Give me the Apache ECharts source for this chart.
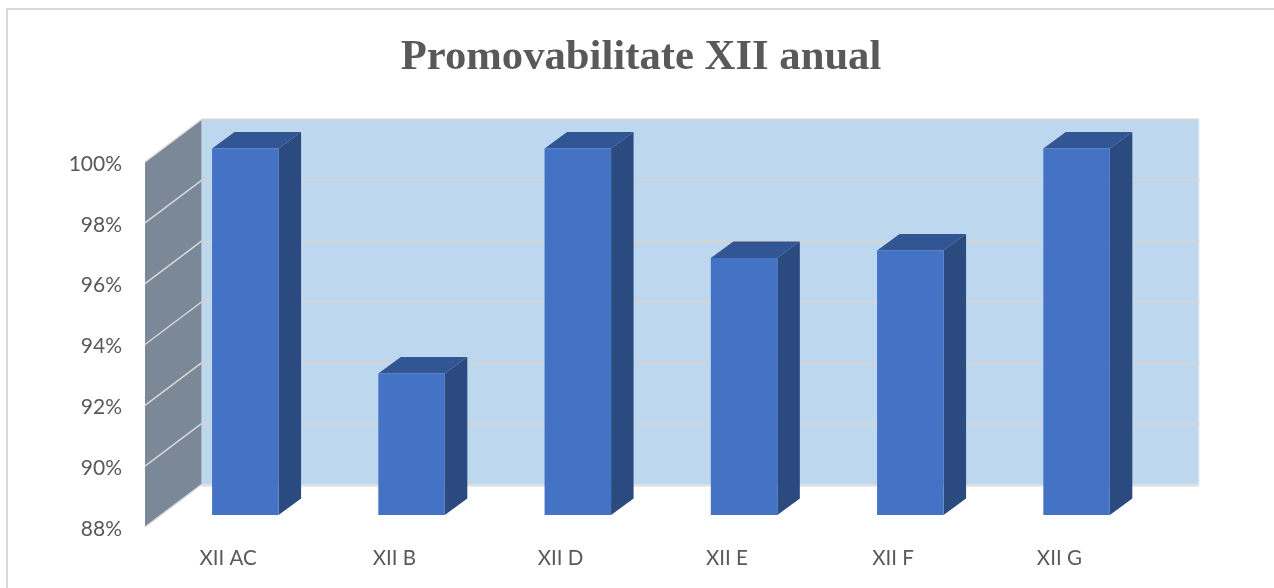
<!DOCTYPE html>
<html>
<head>
<meta charset="utf-8">
<script src="https://cdn.jsdelivr.net/npm/echarts@6/dist/echarts.min.js"></script>
<style>html,body{margin:0;padding:0;background:#fff}#c{width:1274px;height:588px}</style>
</head>
<body>
<div id="c"></div>
<script>
var titleText = 'Promovabilitate XII anual';
var categories = ['XII AC', 'XII B', 'XII D', 'XII E', 'XII F', 'XII G'];
var values = [100, 92.6, 100, 96.4, 96.65, 100];
var axisMin = 88;
var axisMax = 100;
var axisStep = 2;
var gridTicks = [90, 92, 94, 96, 98];

var wallDx = 56.5, wallDy = -42.5;
var barOffsetX = 17.2, barOffsetY = -13.5;
var depthX = 22.5, depthY = -16.5;

function poly(points, fill, z2) {
  return { type: 'polygon', z2: z2 || 0, shape: { points: points }, style: { fill: fill, stroke: null } };
}
function seg(a, b, color, w, z2) {
  return { type: 'line', z2: z2 || 1, shape: { x1: a[0], y1: a[1], x2: b[0], y2: b[1] }, style: { stroke: color, lineWidth: w, fill: null } };
}

function renderWalls(params, api) {
  var cs = params.coordSys;
  var x0 = cs.x, x1 = cs.x + cs.width;
  var yTop = api.coord([0, axisMax])[1], yBot = api.coord([0, axisMin])[1];
  var bx0 = x0 + wallDx, bx1 = x1 + wallDx;
  var line = '#d4d4d4';
  var kids = [
    poly([[bx0, yTop + wallDy], [bx1, yTop + wallDy], [bx1, yBot + wallDy], [bx0, yBot + wallDy]], '#bdd7ee'),
    poly([[x0, yTop], [bx0, yTop + wallDy], [bx0, yBot + wallDy], [x0, yBot]], '#7a8898'),
    seg([bx0, yTop + wallDy], [bx1, yTop + wallDy], line, 2),
    seg([bx0, yBot + wallDy + 1], [bx1, yBot + wallDy + 1], '#dcdcdc', 2),
    seg([x0, yTop], [bx0, yTop + wallDy], '#d9d9d9', 1.5),
    seg([x0, yBot], [bx0, yBot + wallDy], '#d9d9d9', 1.5),
    seg([bx1, yTop + wallDy], [bx1, yBot + wallDy], '#e6eef6', 1.5)
  ];
  gridTicks.forEach(function (t) {
    var y = api.coord([0, t])[1];
    kids.push(seg([x0, y], [bx0, y + wallDy], '#d9d9d9', 1.5));
    kids.push(seg([bx0, y + wallDy], [bx1, y + wallDy], line, 2));
  });
  return { type: 'group', children: kids };
}

function renderBar(params, api) {
  var idx = api.value(0);
  var top = api.coord([idx, api.value(1)]);
  var base = api.coord([idx, axisMin]);
  var w = api.size([1, 0])[0] * 0.4;
  var l = top[0] - w / 2 + barOffsetX, r = l + w;
  var t = top[1] + barOffsetY, b = base[1] + barOffsetY + 1.5;
  return {
    type: 'group',
    children: [
      poly([[r, t], [r + depthX, t + depthY], [r + depthX, b + depthY], [r, b]], '#2a4a80', 0),
      poly([[l, t], [l + depthX, t + depthY], [r + depthX, t + depthY], [r, t]], '#325693', 0),
      poly([[l, t], [r, t], [r, b], [l, b]], '#4472c4', 1)
    ]
  };
}

var chart = echarts.init(document.getElementById('c'), null, { renderer: 'canvas' });
chart.setOption({
  animation: false,
  backgroundColor: '#ffffff',
  title: {
    text: titleText,
    left: 636,
    top: 29,
    textAlign: 'center',
    textStyle: { fontFamily: 'Liberation Serif', fontWeight: 'bold', fontSize: 42.7, color: '#595959', lineHeight: 48 }
  },
  graphic: [{
    type: 'polyline',
    silent: true,
    shape: { points: [[7, 588], [7, 9], [1274, 9]] },
    style: { stroke: '#d9d9d9', lineWidth: 2, fill: null }
  }],
  grid: { left: 145, top: 162, width: 997.5, height: 365 },
  xAxis: {
    type: 'category',
    data: categories,
    axisLine: { show: false },
    axisTick: { show: false },
    axisLabel: { margin: 21, fontFamily: 'Lato', fontSize: 20.5, color: '#595959' }
  },
  yAxis: {
    type: 'value',
    min: axisMin,
    max: axisMax,
    interval: axisStep,
    axisLine: { show: false },
    axisTick: { show: false },
    splitLine: { show: false },
    axisLabel: { margin: 23, verticalAlign: 'top', lineHeight: 4, formatter: '{value}%', fontFamily: 'Lato', fontSize: 21, color: '#595959' }
  },
  series: [
    { type: 'custom', name: 'walls', renderItem: renderWalls, data: [[0, axisMax]], encode: { x: 0, y: 1 }, z: 1, silent: true },
    { type: 'custom', name: 'Promovabilitate', renderItem: renderBar, data: values.map(function (v, i) { return [i, v]; }), encode: { x: 0, y: 1 }, z: 2, silent: true }
  ]
});
</script>
</body>
</html>
